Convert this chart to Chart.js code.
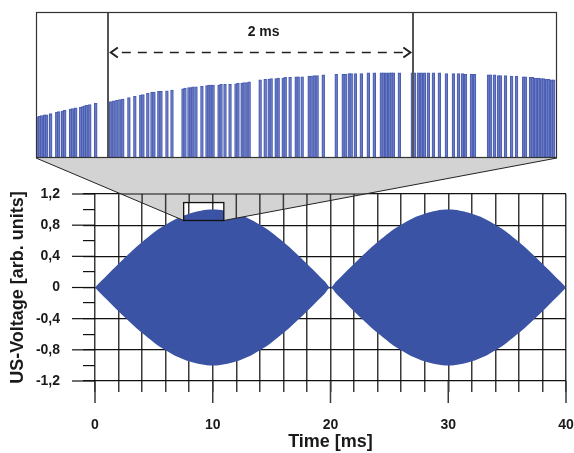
<!DOCTYPE html>
<html>
<head>
<meta charset="utf-8">
<script src="https://cdn.jsdelivr.net/npm/chart.js@4/dist/chart.umd.min.js"></script>
<style>
  body { margin: 0; background: #fff; }
  #wrap { position: relative; width: 574px; height: 453px; }
  #wrap canvas { position: absolute; left: 0; top: 0; }
</style>
</head>
<body>
<div id="wrap">
  <canvas id="mainChart" width="574" height="453"></canvas>
  <canvas id="zoomChart" width="574" height="170"></canvas>
</div>
<script>
const timeMs = [0, 0.5, 1, 1.5, 2, 2.5, 3, 3.5, 4, 4.5, 5, 5.5, 6, 6.5, 7, 7.5, 8, 8.5, 9, 9.5,
                10, 10.5, 11, 11.5, 12, 12.5, 13, 13.5, 14, 14.5, 15, 15.5, 16, 16.5, 17, 17.5, 18, 18.5, 19, 19.5,
                20, 20.5, 21, 21.5, 22, 22.5, 23, 23.5, 24, 24.5, 25, 25.5, 26, 26.5, 27, 27.5, 28, 28.5, 29, 29.5,
                30, 30.5, 31, 31.5, 32, 32.5, 33, 33.5, 34, 34.5, 35, 35.5, 36, 36.5, 37, 37.5, 38, 38.5, 39, 39.5, 40];
const envelopeUpper = [
  0, 0.08, 0.155, 0.23, 0.305, 0.38, 0.45, 0.52, 0.585, 0.645, 0.705, 0.76, 0.805, 0.85, 0.89, 0.92, 0.948, 0.97, 0.986, 0.997,
  1.0, 0.997, 0.986, 0.97, 0.948, 0.92, 0.89, 0.85, 0.805, 0.76, 0.705, 0.645, 0.585, 0.52, 0.45, 0.38, 0.305, 0.23, 0.155, 0.08,
  0, 0.08, 0.155, 0.23, 0.305, 0.38, 0.45, 0.52, 0.585, 0.645, 0.705, 0.76, 0.805, 0.85, 0.89, 0.92, 0.948, 0.97, 0.986, 0.997,
  1.0, 0.997, 0.986, 0.97, 0.948, 0.92, 0.89, 0.85, 0.805, 0.76, 0.705, 0.645, 0.585, 0.52, 0.45, 0.38, 0.305, 0.23, 0.155, 0.08, 0
];
const envelopeLower = [
  0, -0.08, -0.155, -0.23, -0.305, -0.38, -0.45, -0.52, -0.585, -0.645, -0.705, -0.76, -0.805, -0.85, -0.89, -0.92, -0.948, -0.97, -0.986, -0.997,
  -1.0, -0.997, -0.986, -0.97, -0.948, -0.92, -0.89, -0.85, -0.805, -0.76, -0.705, -0.645, -0.585, -0.52, -0.45, -0.38, -0.305, -0.23, -0.155, -0.08,
  0, -0.08, -0.155, -0.23, -0.305, -0.38, -0.45, -0.52, -0.585, -0.645, -0.705, -0.76, -0.805, -0.85, -0.89, -0.92, -0.948, -0.97, -0.986, -0.997,
  -1.0, -0.997, -0.986, -0.97, -0.948, -0.92, -0.89, -0.85, -0.805, -0.76, -0.705, -0.645, -0.585, -0.52, -0.45, -0.38, -0.305, -0.23, -0.155, -0.08, 0
];

// Achsen
const xMajorTicks = [0, 10, 20, 30, 40];
const xTickLabels = ['0', '10', '20', '30', '40'];
const yMajorTicks = [1.2, 0.8, 0.4, 0, -0.4, -0.8, -1.2];
const yTickLabels = ['1,2', '0,8', '0,4', '0', '-0,4', '-0,8', '-1,2'];

// Ausschnitt (Zoom)
const zoomRange = [7.53, 10.94];   // ms
const zoomLevels = [0.86, 1.09];   // Rechteck im Hauptdiagramm
const insetLevels = [0.85, 1.08];  // y-Bereich im Zoomfenster
const spanMarkers = [8, 10];
const spanLabel = '2 ms';
const spanArrowLevel = 1.017;
const spanLabelLevel = 1.048;

// Einzelpulse im Zoomfenster
const pulseTimes = [
  7.541, 7.554, 7.567, 7.587, 7.600, 7.626, 7.666, 7.679, 7.705, 7.718, 7.757, 7.770, 7.790, 7.823, 7.836, 7.849, 7.862, 7.882, 7.921,
  8.007, 8.020, 8.039, 8.059, 8.079, 8.098, 8.138, 8.177, 8.216, 8.230, 8.262, 8.289, 8.302, 8.334, 8.348, 8.387, 8.420,
  8.492, 8.505, 8.531, 8.544, 8.557, 8.577, 8.616, 8.649, 8.662, 8.675, 8.689, 8.728, 8.741, 8.767, 8.800, 8.839, 8.852, 8.879, 8.892, 8.911, 8.925,
  8.997, 9.030, 9.056, 9.069, 9.102, 9.115, 9.148, 9.161, 9.193, 9.233, 9.246, 9.272, 9.318, 9.331, 9.351, 9.370, 9.410,
  9.495, 9.541, 9.554, 9.580, 9.593, 9.620, 9.659, 9.705, 9.744, 9.790, 9.803, 9.823, 9.843, 9.856, 9.869, 9.908,
  9.993, 10.007, 10.033, 10.052, 10.072, 10.098, 10.131, 10.170, 10.216, 10.262, 10.295, 10.321, 10.341, 10.380, 10.400,
  10.492, 10.505, 10.531, 10.557, 10.570, 10.603, 10.643, 10.675, 10.721, 10.734, 10.767, 10.780, 10.800, 10.820, 10.839, 10.852, 10.872, 10.885, 10.905, 10.918
];
const pulseHeights = [
  0.915, 0.916, 0.917, 0.918, 0.918, 0.920, 0.922, 0.923, 0.924, 0.925, 0.927, 0.928, 0.929, 0.930, 0.931, 0.932, 0.933, 0.934, 0.936,
  0.938, 0.939, 0.940, 0.941, 0.942, 0.943, 0.945, 0.947, 0.949, 0.950, 0.952, 0.954, 0.954, 0.955, 0.955, 0.956, 0.957,
  0.959, 0.960, 0.961, 0.961, 0.962, 0.962, 0.963, 0.964, 0.965, 0.965, 0.965, 0.965, 0.966, 0.966, 0.966, 0.967, 0.968, 0.968, 0.969, 0.969, 0.970,
  0.973, 0.974, 0.974, 0.975, 0.975, 0.976, 0.976, 0.977, 0.977, 0.978, 0.978, 0.978, 0.979, 0.979, 0.980, 0.980, 0.981,
  0.982, 0.982, 0.982, 0.983, 0.983, 0.983, 0.983, 0.984, 0.984, 0.984, 0.984, 0.984, 0.984, 0.984, 0.984, 0.984,
  0.984, 0.984, 0.984, 0.984, 0.984, 0.984, 0.984, 0.984, 0.983, 0.983, 0.983, 0.983, 0.982, 0.982, 0.982,
  0.981, 0.981, 0.981, 0.980, 0.980, 0.980, 0.979, 0.979, 0.978, 0.978, 0.977, 0.977, 0.976, 0.976, 0.975, 0.975, 0.974, 0.974, 0.973, 0.973
];

const FONT = "'Liberation Sans', Arial, Helvetica, sans-serif";
const BLUE = '#3a53a4';
const GRID_V = '#3a3a3a';
const GRID_H = '#111111';

function isYMajor(v) {
  return yMajorTicks.some(t => Math.abs(t - v) < 1e-6);
}

// ---------- Zoomfenster ----------
const zoomPlugin = {
  id: 'zoomDeko',
  beforeDatasetsDraw(chart) {
    const a = chart.chartArea, ctx = chart.ctx;
    ctx.save();
    ctx.fillStyle = '#fff';
    ctx.fillRect(a.left, a.top, a.right - a.left, a.bottom - a.top);
    ctx.restore();
  },
  afterDraw(chart) {
    const a = chart.chartArea, ctx = chart.ctx;
    const xs = chart.scales.x, ys = chart.scales.y;
    ctx.save();
    // Markierungen 2 ms
    ctx.strokeStyle = '#555';
    ctx.lineWidth = 2;
    spanMarkers.forEach(m => {
      const px = Math.round(xs.getPixelForValue(m));
      ctx.beginPath();
      ctx.moveTo(px, a.top);
      ctx.lineTo(px, a.bottom);
      ctx.stroke();
    });
    const x0 = xs.getPixelForValue(spanMarkers[0]);
    const x1 = xs.getPixelForValue(spanMarkers[1]);
    const ay = Math.round(ys.getPixelForValue(spanArrowLevel)) + 0.5;
    ctx.strokeStyle = '#222';
    ctx.lineWidth = 1.5;
    ctx.setLineDash([9, 7]);
    ctx.beginPath();
    ctx.moveTo(x0 + 14, ay);
    ctx.lineTo(x1 - 6, ay);
    ctx.stroke();
    ctx.setLineDash([]);
    ctx.lineWidth = 2;
    ctx.beginPath();
    ctx.moveTo(x0 + 10, ay - 5); ctx.lineTo(x0 + 3, ay); ctx.lineTo(x0 + 10, ay + 5);
    ctx.moveTo(x1 - 10, ay - 5); ctx.lineTo(x1 - 3, ay); ctx.lineTo(x1 - 10, ay + 5);
    ctx.stroke();
    ctx.fillStyle = '#1a1a1a';
    ctx.font = 'bold 14px ' + FONT;
    ctx.textAlign = 'center';
    ctx.textBaseline = 'middle';
    ctx.fillText(spanLabel, (x0 + x1) / 2 + 3, ys.getPixelForValue(spanLabelLevel));
    // Rahmen
    ctx.strokeStyle = '#333';
    ctx.lineWidth = 1.2;
    ctx.strokeRect(a.left + 0.5, a.top + 0.5, a.right - a.left - 1, a.bottom - a.top - 1);
    ctx.restore();
  }
};

const zoomChart = new Chart(document.getElementById('zoomChart'), {
  type: 'bar',
  data: {
    datasets: [{
      data: pulseTimes.map((t, i) => ({ x: t, y: pulseHeights[i] })),
      backgroundColor: 'rgba(110, 126, 196, 0.75)',
      borderColor: '#4a5db2',
      borderWidth: { left: 1, right: 1, top: 1, bottom: 0 },
      borderSkipped: 'bottom',
      barThickness: 2.8
    }]
  },
  options: {
    responsive: false,
    animation: false,
    layout: { padding: { left: 36, top: 12, right: 17, bottom: 12 } },
    plugins: { legend: { display: false }, tooltip: { enabled: false } },
    scales: {
      x: { type: 'linear', offset: false, min: zoomRange[0], max: zoomRange[1], display: false },
      y: { min: insetLevels[0], max: insetLevels[1], display: false }
    }
  },
  plugins: [zoomPlugin]
});

// ---------- Hauptdiagramm ----------
const mainPlugin = {
  id: 'mainDeko',
  afterDatasetsDraw(chart) {
    const ctx = chart.ctx, a = chart.chartArea;
    const xs = chart.scales.x, ys = chart.scales.y;
    const ins = zoomChart.chartArea;
    const rx0 = xs.getPixelForValue(zoomRange[0]);
    const rx1 = xs.getPixelForValue(zoomRange[1]);
    const ryTop = ys.getPixelForValue(zoomLevels[1]);
    const ryBot = ys.getPixelForValue(zoomLevels[0]);

    ctx.save();
    ctx.beginPath();
    ctx.moveTo(ins.left, ins.bottom);
    ctx.lineTo(ins.right, ins.bottom);
    ctx.lineTo(rx1, ryBot);
    ctx.lineTo(rx0, ryBot);
    ctx.closePath();
    ctx.rect(rx0, ryTop, rx1 - rx0, ryBot - ryTop);
    ctx.fillStyle = '#d3d3d3';
    ctx.fill('evenodd');
    ctx.clip('evenodd');
    // Gitter über dem grauen Trichter
    ctx.strokeStyle = GRID_V;
    ctx.lineWidth = 1.5;
    for (let v = 0; v <= 40; v += 2) {
      const px = xs.getPixelForValue(v);
      ctx.beginPath(); ctx.moveTo(px, a.top); ctx.lineTo(px, a.bottom); ctx.stroke();
    }
    ctx.strokeStyle = GRID_H;
    ctx.lineWidth = 1.2;
    yMajorTicks.forEach(v => {
      const py = ys.getPixelForValue(v);
      ctx.beginPath(); ctx.moveTo(a.left, py); ctx.lineTo(a.right, py); ctx.stroke();
    });
    ctx.restore();

    ctx.save();
    ctx.strokeStyle = '#222';
    ctx.lineWidth = 1;
    ctx.beginPath();
    ctx.moveTo(ins.left, ins.bottom); ctx.lineTo(rx0, ryBot);
    ctx.moveTo(ins.right, ins.bottom); ctx.lineTo(rx1, ryBot);
    ctx.stroke();
    ctx.strokeStyle = '#111';
    ctx.lineWidth = 1.3;
    ctx.strokeRect(rx0, ryTop, rx1 - rx0, ryBot - ryTop);
    ctx.restore();
  },
  afterDraw(chart) {
    const ctx = chart.ctx, a = chart.chartArea;
    const xs = chart.scales.x, ys = chart.scales.y;
    ctx.save();
    // lange Striche an Hauptteilungen
    ctx.strokeStyle = GRID_V;
    ctx.lineWidth = 1.5;
    xMajorTicks.forEach(v => {
      const px = xs.getPixelForValue(v);
      ctx.beginPath(); ctx.moveTo(px, a.bottom); ctx.lineTo(px, a.bottom + 22); ctx.stroke();
    });
    ctx.strokeStyle = GRID_H;
    ctx.lineWidth = 1.2;
    yMajorTicks.forEach(v => {
      const py = ys.getPixelForValue(v);
      ctx.beginPath(); ctx.moveTo(a.left - 23, py); ctx.lineTo(a.left, py); ctx.stroke();
    });
    ctx.restore();
  }
};

new Chart(document.getElementById('mainChart'), {
  type: 'line',
  data: {
    labels: timeMs,
    datasets: [
      {
        data: timeMs.map((t, i) => ({ x: t, y: envelopeLower[i] })),
        borderWidth: 0,
        borderColor: BLUE,
        backgroundColor: BLUE,
        pointRadius: 0,
        cubicInterpolationMode: 'monotone',
        fill: false
      },
      {
        data: timeMs.map((t, i) => ({ x: t, y: envelopeUpper[i] })),
        borderWidth: 0,
        borderColor: BLUE,
        backgroundColor: BLUE,
        pointRadius: 0,
        cubicInterpolationMode: 'monotone',
        fill: '-1'
      }
    ]
  },
  options: {
    responsive: false,
    animation: false,
    layout: { padding: { top: 194, right: 8, left: 0, bottom: 0 } },
    plugins: { legend: { display: false }, tooltip: { enabled: false } },
    scales: {
      x: {
        type: 'linear',
        min: 0,
        max: 40,
        afterFit(scale) {
          scale.height = 72;
          scale.paddingLeft = 0;
          scale.paddingRight = 0;
        },
        border: { display: false },
        grid: {
          color: GRID_V,
          lineWidth: 1.5,
          tickLength: 11,
          tickColor: GRID_V
        },
        ticks: {
          stepSize: 2,
          autoSkip: false,
          maxRotation: 0,
          padding: 25,
          color: '#1a1a1a',
          font: { family: FONT, size: 14, weight: 'bold' },
          callback(value) {
            const i = xMajorTicks.indexOf(value);
            return i >= 0 ? xTickLabels[i] : '';
          }
        },
        title: {
          display: true,
          text: 'Time [ms]',
          color: '#1a1a1a',
          font: { family: FONT, size: 18, weight: 'bold' },
          padding: { top: 0, bottom: 0 }
        }
      },
      y: {
        min: -1.2,
        max: 1.2,
        afterFit(scale) {
          scale.width = 95;
          scale.paddingTop = 0;
          scale.paddingBottom = 0;
        },
        border: { display: false },
        grid: {
          color(ctx) { return ctx.tick && isYMajor(ctx.tick.value) ? GRID_H : 'rgba(0,0,0,0)'; },
          lineWidth: 1.2,
          tickLength: 12,
          tickColor: GRID_H
        },
        ticks: {
          stepSize: 0.2,
          autoSkip: false,
          padding: 23,
          color: '#1a1a1a',
          font: { family: FONT, size: 14, weight: 'bold' },
          callback(value) {
            const i = yMajorTicks.findIndex(t => Math.abs(t - value) < 1e-6);
            return i >= 0 ? yTickLabels[i] : '';
          }
        },
        title: {
          display: true,
          text: 'US-Voltage [arb. units]',
          color: '#1a1a1a',
          font: { family: FONT, size: 18, weight: 'bold' },
          padding: { top: 7, bottom: 0 }
        }
      }
    }
  },
  plugins: [mainPlugin]
});
</script>
</body>
</html>
